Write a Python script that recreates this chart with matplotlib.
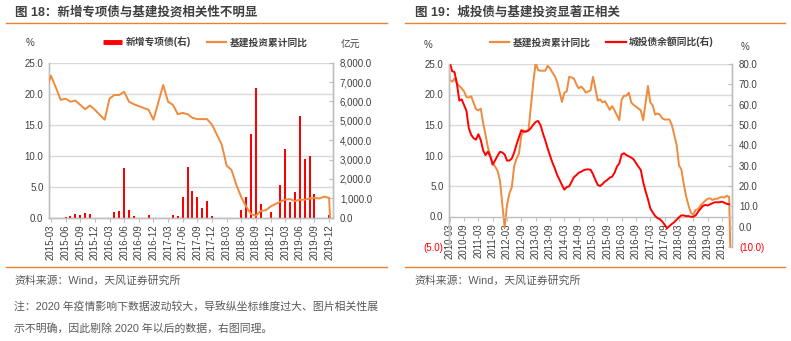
import matplotlib
matplotlib.use("Agg")
import matplotlib.pyplot as plt
import numpy as np
import pandas as pd
from matplotlib.lines import Line2D
from matplotlib.ticker import FixedLocator, FuncFormatter

plt.rcParams['font.family'] = ['Liberation Sans', 'Noto Sans CJK SC', 'DejaVu Sans']
plt.rcParams['axes.unicode_minus'] = False

W, H = 791, 341
ORANGE = '#F08A3C'
RED = '#FF0000'
TXT = '#404040'
GRID = '#D9D9D9'
SPINE = '#BFBFBF'

# 基建投资累计同比(%)，2010-02 ~ 2020-02，1月与2月合并公布
infra_2010 = [31.0, 22.4, 22.1, 22.6, 21.8, 21.4, 21.0, 20.5, 19.6, 19.5, 19.7]
infra_2011 = [17.6, 17.4, 17.7, 15.3, 13.4, 11.3, 10.0, 8.7, 8.2, 7.5, 6.0]
infra_2012 = [-1.8, 1.9, 3.8, 4.8, 8.3, 9.5, 10.3, 13.3, 14.1, 14.0, 14.2]
infra_2013 = [22.0, 25.2, 24.0, 23.9, 23.9, 23.9, 24.7, 24.3, 23.6, 23.0, 22.0]
infra_2014 = [18.8, 20.3, 20.5, 22.9, 22.8, 22.6, 21.7, 21.0, 21.3, 20.9, 20.3]
infra_2015 = [20.7, 22.9, 21.0, 19.0, 19.2, 18.7, 18.9, 18.2, 17.5, 18.1, 17.4]
infra_2016 = [15.8, 19.2, 19.8, 19.8, 20.3, 18.7, 18.3, 18.0, 17.7, 17.4, 15.8]
infra_2017 = [21.4, 18.7, 18.2, 16.7, 16.9, 16.7, 16.1, 15.9, 15.9, 15.9, 15.0]
infra_2018 = [11.8, 8.4, 7.7, 5.3, 3.3, 1.8, 0.6, 0.3, 1.1, 1.2, 1.8]
infra_2019 = [2.6, 2.9, 3.0, 2.7, 2.9, 2.9, 3.1, 3.2, 3.1, 3.4, 3.2]
infra_2020 = [-30.3]
infra_yoy = (infra_2010 + infra_2011 + infra_2012 + infra_2013 + infra_2014 + infra_2015
             + infra_2016 + infra_2017 + infra_2018 + infra_2019 + infra_2020)
infra_dates = pd.date_range('2010-02-01', '2020-02-01', freq='MS')
infra_dates = infra_dates[infra_dates.month != 1]

# 城投债余额同比(%)，2010-03 ~ 2019-12
lgfv_2010 = [81.0, 76.5, 76.0, 70.5, 62.0, 62.6, 59.8, 57.0, 48.4, 45.1]
lgfv_2011 = [43.5, 42.8, 45.5, 42.6, 37.5, 35.2, 36.9, 34.5, 30.5, 32.6, 34.8, 36.8]
lgfv_2012 = [36.5, 35.5, 32.5, 32.5, 33.5, 36.5, 40.5, 44.0, 47.5, 46.7, 46.7, 47.3]
lgfv_2013 = [48.5, 50.2, 51.5, 52.0, 50.0, 46.0, 42.5, 38.5, 35.0, 31.5, 28.7, 25.4]
lgfv_2014 = [23.0, 20.5, 18.2, 19.5, 19.8, 22.0, 24.3, 25.3, 26.5, 27.0, 27.7, 28.1]
lgfv_2015 = [28.2, 28.0, 25.8, 23.0, 20.5, 20.0, 21.0, 22.2, 23.0, 24.1, 24.6, 26.5]
lgfv_2016 = [29.5, 31.1, 35.5, 36.1, 35.2, 34.6, 34.0, 33.1, 31.3, 29.5, 27.9, 22.0]
lgfv_2017 = [17.5, 13.5, 9.0, 7.0, 5.3, 4.2, 3.7, 2.5, 1.0, -0.8, 0.3, 1.3]
lgfv_2018 = [2.2, 3.4, 4.6, 5.6, 5.5, 5.2, 5.2, 4.9, 4.9, 5.6, 7.3, 8.8]
lgfv_2019 = [10.2, 10.7, 10.4, 11.0, 11.5, 12.0, 12.0, 12.0, 12.3, 11.8, 11.2, 11.0]
lgfv_yoy = (lgfv_2010 + lgfv_2011 + lgfv_2012 + lgfv_2013 + lgfv_2014 + lgfv_2015
            + lgfv_2016 + lgfv_2017 + lgfv_2018 + lgfv_2019)
lgfv_dates = pd.date_range('2010-03-01', '2019-12-01', freq='MS')

# 新增专项债(亿元)，2015-03 ~ 2019-12
special_bond = [0, 0, 0, 34, 86, 172, 120, 224, 172, 0,
                0, 0, 0, 310, 344, 2550, 396, 75, 0, 0, 120, 0,
                0, 0, 0, 130, 70, 1084, 2640, 1360, 1075, 490, 860, 86,
                0, 0, 0, 0, 0, 396, 1084, 4300, 6720, 720, 0, 310,
                0, 1680, 3550, 826, 1308, 5265, 3020, 3190, 1215, 0, 0, 138]
bond_dates = pd.date_range('2015-03-01', '2019-12-01', freq='MS')


def month_pos(dates, start):
    return np.array([(d.year - start.year) * 12 + d.month - start.month for d in dates])


def num_fmt(fmt):
    def f(v, pos):
        s = fmt.format(abs(v))
        return '(' + s + ')' if v < 0 else s
    return FuncFormatter(f)


def style_axes(ax):
    for side in ['left', 'right', 'bottom']:
        ax.spines[side].set_color(SPINE)
        ax.spines[side].set_linewidth(1.0)
    ax.spines['top'].set_visible(False)


fig = plt.figure(figsize=(W / 100, H / 100), dpi=100)

# ---------- 图18 ----------
start_l = pd.Timestamp('2015-03-01')
ax1 = fig.add_axes([49 / W, 1 - 217.7 / H, 284 / W, 155 / H])
ax1b = ax1.twinx()
style_axes(ax1)
style_axes(ax1b)
ax1.set_xlim(-0.4, 57.8)
ax1.set_ylim(0, 25)
ax1b.set_ylim(0, 8000)
ax1.yaxis.set_major_locator(FixedLocator(np.arange(0, 26, 5)))
ax1b.yaxis.set_major_locator(FixedLocator(np.arange(0, 8001, 1000)))
ax1.yaxis.set_major_formatter(num_fmt('{:.1f}'))
ax1b.yaxis.set_major_formatter(num_fmt('{:,.1f}'))
ax1.grid(axis='y', color=GRID, lw=1.0)
ax1.set_axisbelow(True)

xb = month_pos(bond_dates, start_l)
ax1b.bar(xb, special_bond, width=0.42, color=RED, zorder=2)

mask = infra_dates >= pd.Timestamp('2015-02-01')
xi = month_pos(infra_dates[mask], start_l)
ax1b.plot(xi, np.array(infra_yoy)[mask], color=ORANGE, lw=1.4, zorder=3,
          transform=ax1.transData)
ax1b.set_ylim(0, 8000)

ticks_l = np.arange(0, 58, 3)
ax1.set_xticks(ticks_l)
ax1.set_xticklabels([bond_dates[i].strftime('%Y-%m') for i in ticks_l], rotation=90)
ax1.tick_params(axis='x', labelsize=7, colors=TXT, length=3, color=SPINE, pad=2)
ax1.tick_params(axis='y', labelsize=7, labelcolor=TXT, length=0, pad=4)
ax1b.tick_params(axis='y', labelsize=7, labelcolor=TXT, direction='in', length=3,
                 color=SPINE, pad=5)

# ---------- 图19 ----------
start_r = pd.Timestamp('2010-03-01')
ax2 = fig.add_axes([449 / W, 1 - 247 / H, 283 / W, 183 / H])
ax2b = ax2.twinx()
style_axes(ax2)
style_axes(ax2b)
ax2.spines['bottom'].set_position(('data', 0))
ax2b.spines['bottom'].set_visible(False)
ax2.set_xlim(-0.3, 118.2)
ax2.set_ylim(-5, 25)
ax2b.set_ylim(-10, 80)
ax2.yaxis.set_major_locator(FixedLocator(np.arange(-5, 26, 5)))
ax2b.yaxis.set_major_locator(FixedLocator(np.arange(-10, 81, 10)))
ax2.yaxis.set_major_formatter(num_fmt('{:.1f}'))
ax2b.yaxis.set_major_formatter(num_fmt('{:.1f}'))
for v in range(5, 26, 5):
    ax2.axhline(v, color=GRID, lw=1.0, zorder=0)

ax2.plot(month_pos(infra_dates, start_r), infra_yoy, color=ORANGE, lw=1.4)
ax2b.plot(month_pos(lgfv_dates, start_r), lgfv_yoy, color=RED, lw=1.4)

ticks_r = np.arange(0, 115, 6)
ax2.set_xticks(ticks_r)
ax2.set_xticklabels([lgfv_dates[i].strftime('%Y-%m') for i in ticks_r], rotation=90)
ax2.tick_params(axis='x', labelsize=7, colors=TXT, length=3, color=SPINE, pad=2)
ax2.tick_params(axis='y', labelsize=7, labelcolor=TXT, length=0, pad=4)
ax2b.tick_params(axis='y', labelsize=7, labelcolor=TXT, direction='in', length=3,
                 color=SPINE, pad=5)

fig.canvas.draw()
for ax in [ax2, ax2b]:
    for lab, v in zip(ax.get_yticklabels(), ax.get_yticks()):
        if v < 0:
            lab.set_color(RED)

# ---------- 标题、图例与注释 ----------
fig.text(15 / W, 1 - 12.5 / H, '图 18：新增专项债与基建投资相关性不明显', fontsize=9,
         fontweight='bold', color=TXT, va='center')
fig.text(415 / W, 1 - 12.5 / H, '图 19：城投债与基建投资显著正相关', fontsize=9,
         fontweight='bold', color=TXT, va='center')
for x0, x1 in [(6, 387), (405, 785)]:
    for y in [23.3, 266.7]:
        fig.add_artist(Line2D([x0 / W, x1 / W], [1 - y / H, 1 - y / H],
                              color='#E8822E', lw=1.0))

fig.text(30 / W, 1 - 43 / H, '%', fontsize=7, color=TXT, va='center', ha='center')
fig.text(350 / W, 1 - 45 / H, '亿元', fontsize=7, color=TXT, va='center', ha='center')
fig.text(428 / W, 1 - 45 / H, '%', fontsize=7, color=TXT, va='center', ha='center')
fig.text(745 / W, 1 - 47 / H, '%', fontsize=7, color=TXT, va='center', ha='center')

leg_kw = dict(frameon=False, ncol=2, borderpad=0, handlelength=2.0, handletextpad=0.35,
              columnspacing=1.6, loc='center left',
              prop={'size': 7, 'weight': 'bold'})
h_bar = Line2D([], [], color=RED, lw=3.5, solid_capstyle='butt')
h_infra = Line2D([], [], color=ORANGE, lw=1.6)
h_lgfv = Line2D([], [], color=RED, lw=1.6)
lg1 = fig.legend([h_bar, h_infra], ['新增专项债(右)', '基建投资累计同比'],
                 bbox_to_anchor=(98 / W, 1 - 42 / H), **leg_kw)
lg2 = fig.legend([h_infra, h_lgfv], ['基建投资累计同比', '城投债余额同比(右)'],
                 bbox_to_anchor=(485 / W, 1 - 42 / H), **leg_kw)
for lg in [lg1, lg2]:
    for t in lg.get_texts():
        t.set_color(TXT)

SRC = '#595959'
fig.text(14 / W, 1 - 281 / H, '资料来源：Wind，天风证券研究所', fontsize=7.8, color=SRC, va='center')
fig.text(414 / W, 1 - 281 / H, '资料来源：Wind，天风证券研究所', fontsize=7.8, color=SRC, va='center')
fig.text(14 / W, 1 - 306 / H, '注：2020 年疫情影响下数据波动较大，导致纵坐标维度过大、图片相关性展',
         fontsize=7.8, color=SRC, va='center')
fig.text(14 / W, 1 - 328 / H, '示不明确，因此剔除 2020 年以后的数据，右图同理。',
         fontsize=7.8, color=SRC, va='center')

fig.savefig('out.png', dpi=100)
